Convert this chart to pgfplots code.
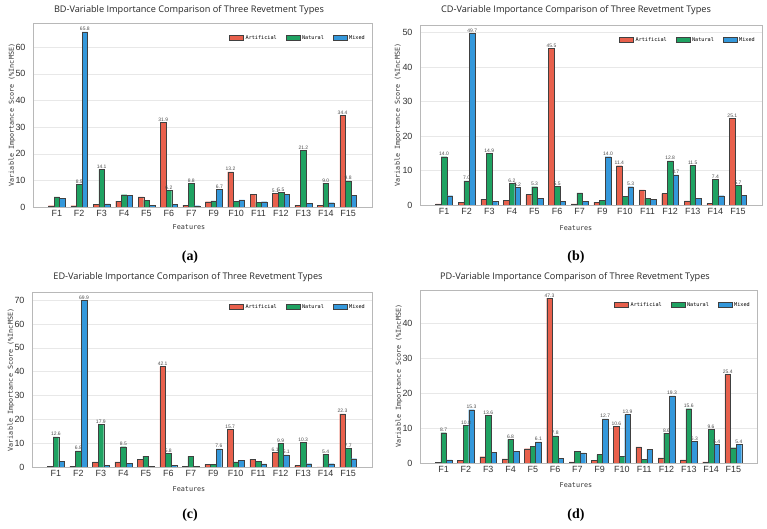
\documentclass[border=0pt]{standalone}
\usepackage{fontspec}
\setmainfont{Liberation Serif}
\newfontfamily\titlefont{Open Sans}
\newfontfamily\tickfont{Liberation Sans}
\newfontfamily\monofont{DejaVu Sans Mono}
\usepackage{pgfplots}
\pgfplotsset{compat=1.18}
\usepackage{pgfplotstable}

\definecolor{artC}{HTML}{E8604C}
\definecolor{natC}{HTML}{1FA262}
\definecolor{mixC}{HTML}{3498DB}

% x: F1..F7 -> 0..6, F9..F15 -> 7..13 ; A = Artificial, N = Natural, M = Mixed
\pgfplotstableread{
x A N M
0 0.5 3.8 3.2
1 0.5 8.5 65.8
2 1.0 14.1 1.2
3 2.2 4.6 4.3
4 3.8 2.5 0.6
5 31.9 6.2 1.0
6 0.7 8.8 0.5
7 2.0 2.3 6.7
8 13.2 2.1 2.7
9 4.7 1.7 2.0
10 5.1 5.5 4.8
11 0.7 21.2 1.4
12 0.6 9.0 1.6
13 34.4 9.8 4.3
}\tabBD

\pgfplotstableread{
x A N M
0 0.3 14.0 2.7
1 0.7 7.0 49.7
2 1.7 14.9 1.0
3 1.4 6.2 5.2
4 3.0 5.3 2.0
5 45.5 5.5 1.0
6 0.3 3.5 1.0
7 0.8 1.4 14.0
8 11.4 2.5 5.3
9 4.4 1.9 1.7
10 3.3 12.8 8.7
11 1.2 11.5 1.9
12 0.4 7.4 2.7
13 25.1 5.7 2.8
}\tabCD

\pgfplotstableread{
x A N M
0 0.3 12.6 2.5
1 0.4 6.8 69.9
2 2.1 17.9 0.8
3 2.1 8.5 1.5
4 3.1 4.6 0.3
5 42.1 5.8 0.8
6 0.3 4.5 0.4
7 1.1 1.1 7.6
8 15.7 2.2 2.9
9 3.3 2.5 1.3
10 6.1 9.9 5.1
11 0.6 10.3 1.4
12 0.1 5.4 1.4
13 22.3 7.7 3.5
}\tabED

\pgfplotstableread{
x A N M
0 0.2 8.7 0.9
1 0.8 10.8 15.3
2 1.8 13.6 3.1
3 1.2 6.8 3.4
4 4.1 4.8 6.1
5 47.3 7.8 1.4
6 0.3 3.3 2.9
7 0.7 2.4 12.7
8 10.6 2.0 13.9
9 4.6 1.1 3.9
10 1.5 8.6 19.3
11 0.9 15.6 6.3
12 0.3 9.6 5.4
13 25.4 4.4 5.4
}\tabPD

\pgfplotsset{
  revet/.style={
    scale only axis,
    ybar, bar width=0.25,
    xmin=-1.0625, xmax=14.0625, ymin=0,
    xtick={0,...,13},
    xticklabels={F1,F2,F3,F4,F5,F6,F7,F9,F10,F11,F12,F13,F14,F15},
    major tick length=0pt,
    axis line style={draw=black!28, line width=0.6pt},
    ymajorgrids, grid style={black!9, line width=0.4pt},
    tick label style={font=\tickfont\fontsize{9}{10}\selectfont, text=black!80},
    /pgf/number format/assume math mode=true,
    yticklabel style={xshift=-4bp},
    point meta=explicit symbolic,
    nodes near coords={\ifdim\pgfplotspointmeta pt>5pt\relax\pgfplotspointmeta\fi},
    every node near coord/.append style={font=\tickfont\fontsize{5}{5}\selectfont, text=black!70, inner sep=0.8bp},
    legend style={at={(1,1)}, anchor=north east, xshift=-2bp, yshift=-8bp,
      draw=none, fill=none, legend columns=3,
      font=\monofont\fontsize{5.2}{6}\selectfont,
      /tikz/every even column/.append style={column sep=7bp}},
    legend cell align=left,
  },
  bars/.style 2 args={draw=black!75, line width=0.3pt, fill=#1, bar shift=#2,
    legend image code/.code={\draw[draw=black!75, line width=0.3pt, fill=#1] (0bp,-2.6bp) rectangle (14bp,2.6bp);}},
}

\newcommand{\threebars}[1]{%
  \addplot[bars={artC}{-0.25}] table[x=x, y=A, meta=A] {#1};
  \addplot[bars={natC}{0}] table[x=x, y=N, meta=N] {#1};
  \addplot[bars={mixC}{0.25}] table[x=x, y=M, meta=M] {#1};
  \legend{Artificial, Natural, Mixed}
}

\begin{document}
\begin{tikzpicture}
\useasboundingbox (0,0) rectangle (767bp,529bp);

% (a) BD
\begin{axis}[revet, at={(33bp,322bp)}, anchor=south west, width=339bp, height=184bp,
  ymax=69.09, ytick={0,10,...,60}]
\threebars{\tabBD}
\end{axis}
% (b) CD
\begin{axis}[revet, at={(420bp,324bp)}, anchor=south west, width=342bp, height=180bp,
  ymax=52.19, ytick={0,10,...,50}]
\threebars{\tabCD}
\end{axis}
% (c) ED
\begin{axis}[revet, at={(32bp,62bp)}, anchor=south west, width=340bp, height=175bp,
  ymax=73.4, ytick={0,10,...,70}]
\threebars{\tabED}
\end{axis}
% (d) PD
\begin{axis}[revet, at={(420bp,66bp)}, anchor=south west, width=337bp, height=173bp,
  ymax=49.67, ytick={0,10,...,40}]
\threebars{\tabPD}
\end{axis}

% titles
\tikzset{ttl/.style={font=\titlefont\fontsize{9.2}{11}\selectfont, text=black!85},
         xl/.style={font=\monofont\fontsize{6.8}{8}\selectfont, text=black!80},
         yl/.style={font=\monofont\fontsize{6.8}{8}\selectfont, text=black!80, rotate=90},
         sub/.style={font=\bfseries\fontsize{14}{16}\selectfont}}
\node[ttl] at (189bp,519bp) {BD-Variable Importance Comparison of Three Revetment Types};
\node[ttl] at (576bp,519bp) {CD-Variable Importance Comparison of Three Revetment Types};
\node[ttl] at (188bp,252bp) {ED-Variable Importance Comparison of Three Revetment Types};
\node[ttl] at (575bp,252bp) {PD-Variable Importance Comparison of Three Revetment Types};

\node[xl] at (189bp,302bp) {Features};
\node[xl] at (576bp,301bp) {Features};
\node[xl] at (189bp,40bp) {Features};
\node[xl] at (576bp,44bp) {Features};

\node[yl] at (12bp,414bp) {Variable Importance Score (\%IncMSE)};
\node[yl] at (398bp,414bp) {Variable Importance Score (\%IncMSE)};
\node[yl] at (11bp,149bp) {Variable Importance Score (\%IncMSE)};
\node[yl] at (399bp,153bp) {Variable Importance Score (\%IncMSE)};

\node[sub] at (190bp,272bp) {(a)};
\node[sub] at (576bp,272bp) {(b)};
\node[sub] at (190bp,14bp) {(c)};
\node[sub] at (576bp,14bp) {(d)};
\end{tikzpicture}
\end{document}
